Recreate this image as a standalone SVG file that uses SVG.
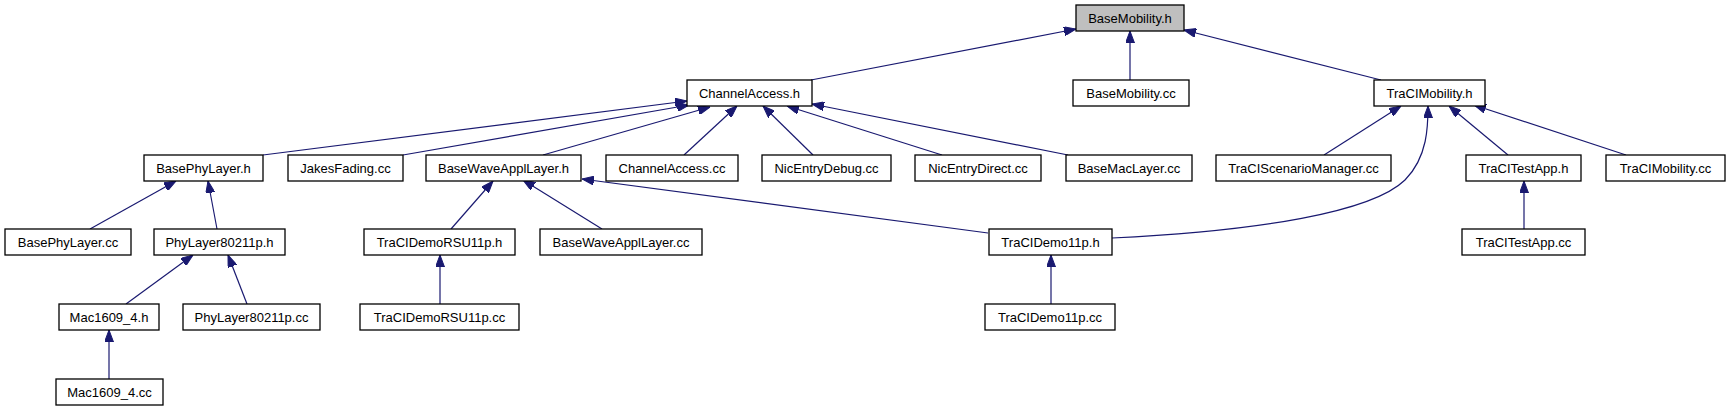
<svg xmlns="http://www.w3.org/2000/svg" width="1729" height="411" viewBox="0 0 1729 411">
<style>
.n rect{fill:#ffffff;stroke:#000000;stroke-width:1.3}
.n.root rect{fill:#bfbfbf}
.n text{font-family:"Liberation Sans",Arial,sans-serif;font-size:13px;fill:#000000;text-anchor:middle}
.e path{fill:none;stroke:#191970;stroke-width:1.2;marker-end:url(#ah)}
</style>
<defs>
<marker id="ah" markerUnits="userSpaceOnUse" markerWidth="12" markerHeight="9" viewBox="0 0 12 9" refX="12" refY="4.5" orient="auto">
<path d="M0,0 L12,4.5 L0,9 z" fill="#191970" stroke="#191970" stroke-width="1"/>
</marker>
</defs>
<rect width="1729" height="411" fill="#ffffff"/>
<g id="edges" class="e">
<path d="M811,80 L1076,29"/>
<path d="M1130,80 L1130,31"/>
<path d="M1381,80 L1184,30"/>
<path d="M263,155 L687,101"/>
<path d="M403,155 L689,105"/>
<path d="M543,155 L710,107"/>
<path d="M684,155 L737,106"/>
<path d="M813,155 L763,106"/>
<path d="M942,155 L787,106"/>
<path d="M1068,155 L812,104"/>
<path d="M1324,155 L1401,106"/>
<path d="M1112,238 C1260,231 1372,212 1405,180 C1428,157 1428,125 1428,106"/>
<path d="M1508,155 L1449,106"/>
<path d="M1626,155 L1474,105"/>
<path d="M90,229 L176,181"/>
<path d="M217,229 L208,181"/>
<path d="M451,229 L493,181"/>
<path d="M602,229 L523,180"/>
<path d="M988,233 L582,179"/>
<path d="M126,304 L193,255"/>
<path d="M247,304 L228,255"/>
<path d="M109,379 L109,330"/>
<path d="M440,304 L440,255"/>
<path d="M1051,304 L1051,255"/>
<path d="M1524,229 L1524,181"/>
</g>
<g id="BaseMobility_h" class="n root"><rect x="1076" y="5" width="108" height="26"/><text x="1130" y="22.5">BaseMobility.h</text></g>
<g id="ChannelAccess_h" class="n"><rect x="687" y="80" width="125" height="26"/><text x="749.5" y="97.5">ChannelAccess.h</text></g>
<g id="BaseMobility_cc" class="n"><rect x="1073" y="80" width="116" height="26"/><text x="1131" y="97.5">BaseMobility.cc</text></g>
<g id="TraCIMobility_h" class="n"><rect x="1374" y="80" width="111" height="26"/><text x="1429.5" y="97.5">TraCIMobility.h</text></g>
<g id="BasePhyLayer_h" class="n"><rect x="144" y="155" width="119" height="26"/><text x="203.5" y="172.5">BasePhyLayer.h</text></g>
<g id="JakesFading_cc" class="n"><rect x="288" y="155" width="115" height="26"/><text x="345.5" y="172.5">JakesFading.cc</text></g>
<g id="BaseWaveApplLayer_h" class="n"><rect x="426" y="155" width="155" height="26"/><text x="503.5" y="172.5">BaseWaveApplLayer.h</text></g>
<g id="ChannelAccess_cc" class="n"><rect x="606" y="155" width="132" height="26"/><text x="672" y="172.5">ChannelAccess.cc</text></g>
<g id="NicEntryDebug_cc" class="n"><rect x="762" y="155" width="129" height="26"/><text x="826.5" y="172.5">NicEntryDebug.cc</text></g>
<g id="NicEntryDirect_cc" class="n"><rect x="915" y="155" width="126" height="26"/><text x="978" y="172.5">NicEntryDirect.cc</text></g>
<g id="BaseMacLayer_cc" class="n"><rect x="1066" y="155" width="126" height="26"/><text x="1129" y="172.5">BaseMacLayer.cc</text></g>
<g id="TraCIScenarioManager_cc" class="n"><rect x="1216" y="155" width="175" height="26"/><text x="1303.5" y="172.5">TraCIScenarioManager.cc</text></g>
<g id="TraCITestApp_h" class="n"><rect x="1466" y="155" width="115" height="26"/><text x="1523.5" y="172.5">TraCITestApp.h</text></g>
<g id="TraCIMobility_cc" class="n"><rect x="1606" y="155" width="119" height="26"/><text x="1665.5" y="172.5">TraCIMobility.cc</text></g>
<g id="BasePhyLayer_cc" class="n"><rect x="5" y="229" width="126" height="26"/><text x="68" y="246.5">BasePhyLayer.cc</text></g>
<g id="PhyLayer80211p_h" class="n"><rect x="154" y="229" width="131" height="26"/><text x="219.5" y="246.5">PhyLayer80211p.h</text></g>
<g id="TraCIDemoRSU11p_h" class="n"><rect x="364" y="229" width="151" height="26"/><text x="439.5" y="246.5">TraCIDemoRSU11p.h</text></g>
<g id="BaseWaveApplLayer_cc" class="n"><rect x="540" y="229" width="162" height="26"/><text x="621" y="246.5">BaseWaveApplLayer.cc</text></g>
<g id="TraCIDemo11p_h" class="n"><rect x="989" y="229" width="123" height="26"/><text x="1050.5" y="246.5">TraCIDemo11p.h</text></g>
<g id="TraCITestApp_cc" class="n"><rect x="1462" y="229" width="123" height="26"/><text x="1523.5" y="246.5">TraCITestApp.cc</text></g>
<g id="Mac1609_4_h" class="n"><rect x="59" y="304" width="100" height="26"/><text x="109" y="321.5">Mac1609_4.h</text></g>
<g id="PhyLayer80211p_cc" class="n"><rect x="183" y="304" width="137" height="26"/><text x="251.5" y="321.5">PhyLayer80211p.cc</text></g>
<g id="TraCIDemoRSU11p_cc" class="n"><rect x="360" y="304" width="159" height="26"/><text x="439.5" y="321.5">TraCIDemoRSU11p.cc</text></g>
<g id="TraCIDemo11p_cc" class="n"><rect x="985" y="304" width="130" height="26"/><text x="1050" y="321.5">TraCIDemo11p.cc</text></g>
<g id="Mac1609_4_cc" class="n"><rect x="56" y="379" width="107" height="26"/><text x="109.5" y="396.5">Mac1609_4.cc</text></g>
</svg>
